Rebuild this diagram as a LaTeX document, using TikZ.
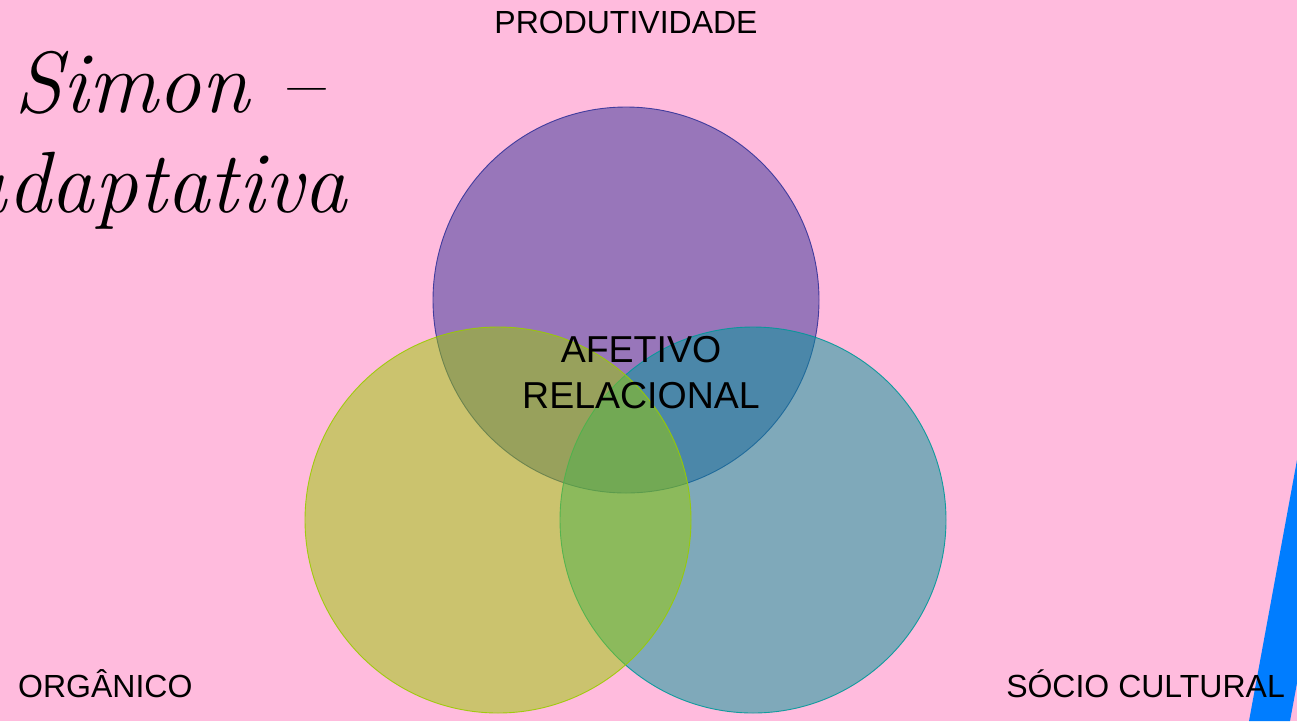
\documentclass[tikz,border=0pt]{standalone}
\usepackage{fontspec}
\newfontfamily\arialfont{Liberation Sans}
\definecolor{bgpink}{RGB}{255,187,221}
\definecolor{bandblue}{RGB}{0,125,255}
\definecolor{cpurple}{RGB}{51,51,153}
\definecolor{cteal}{RGB}{0,153,153}
\definecolor{cyellow}{RGB}{153,204,0}
\tikzset{
  vennfill/.style={fill=#1, fill opacity=0.5, draw=#1, draw opacity=0.9, line width=0.9pt},
  lbl/.style={font=\arialfont\fontsize{32}{38}\selectfont, inner sep=0pt, text=black},
  centerlbl/.style={font=\arialfont\fontsize{37.5}{46}\selectfont, inner sep=0pt, align=center, text=black},
  titletext/.style={font=\fontsize{87}{95}\selectfont\itshape, inner sep=0pt, text=black}
}
\begin{document}
\begin{tikzpicture}[x=1pt,y=-1pt]
\useasboundingbox (0,0) rectangle (1297,721);
\fill[bgpink] (0,0) rectangle (1297,721);
\fill[bandblue] (1297,460) -- (1249,721) -- (1290,721) -- (1297,683) -- cycle;
\begin{scope}
\clip (0,0) rectangle (1297,721);
\node[titletext, anchor=base west] (t1) at (14,112) {Simon –};
\node[titletext, anchor=base east] (t2) at (347,212) {adaptativa};
\end{scope}
\path[vennfill=cpurple] (626,300) circle[radius=193];
\path[vennfill=cteal] (753,520) circle[radius=193];
\path[vennfill=cyellow] (498,520) circle[radius=193];
\node[lbl, anchor=base] (prod) at (626,33) {PRODUTIVIDADE};
\node[lbl, anchor=base west] (org) at (18,697) {ORGÂNICO};
\node[lbl, anchor=base east] (soc) at (1285,697) {SÓCIO CULTURAL};
\node[centerlbl] (afet) at (641,372.5) {AFETIVO\\RELACIONAL};
\end{tikzpicture}
\end{document}
